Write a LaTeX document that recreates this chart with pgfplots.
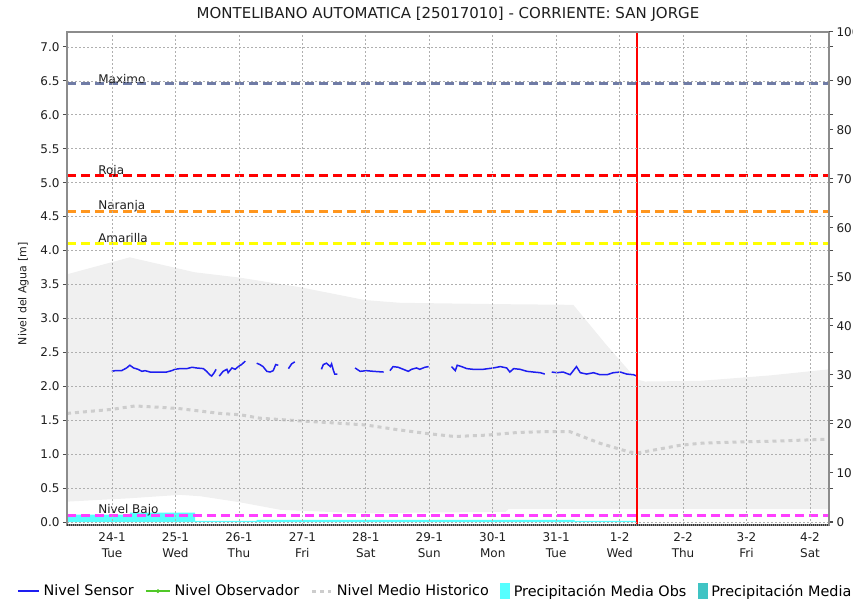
\documentclass[border=0pt]{standalone}
\usepackage{fontspec}
\setmainfont{DejaVu Sans}
\usepackage{pgfplots}
\pgfplotsset{compat=1.18}
\definecolor{maxc}{RGB}{112,124,166}
\definecolor{rojac}{RGB}{255,0,0}
\definecolor{naranjac}{RGB}{255,150,30}
\definecolor{amac}{RGB}{255,255,0}
\definecolor{bajoc}{RGB}{255,64,255}
\definecolor{bandc}{RGB}{240,240,240}
\definecolor{sensorc}{RGB}{30,30,240}
\definecolor{obsc}{RGB}{80,200,40}
\definecolor{medioc}{RGB}{205,205,205}
\definecolor{cyanc}{RGB}{85,255,255}
\definecolor{tealc}{RGB}{64,196,196}
\definecolor{axc}{RGB}{140,140,140}
\definecolor{gridc}{RGB}{175,175,175}
\definecolor{txtc}{RGB}{30,30,30}
\pgfplotsset{
  leg sensor/.style={legend image code/.code={\draw[draw=sensorc, line width=1.5bp] (0bp,0bp) -- (21bp,0bp);}},
  leg obs/.style={legend image code/.code={\draw[color=obsc, draw=obsc, line width=1.4bp] (0bp,0bp) -- (24bp,0bp); \fill[color=obsc] (12bp,0bp) circle (1.8bp);}},
  leg medio/.style={legend image code/.code={\draw[draw=medioc, line width=3bp, dash pattern=on 4bp off 4bp] (0bp,0bp) -- (19bp,0bp);}},
  leg cyan/.style={legend image code/.code={\fill[color=cyanc] (0bp,-7bp) rectangle (9bp,8bp);}},
  leg teal/.style={legend image code/.code={\fill[color=tealc] (0bp,-7bp) rectangle (9bp,8bp);}},
}
\begin{document}
\begin{tikzpicture}
\path[use as bounding box] (0,0) rectangle (853bp,603bp);
\begin{axis}[
  at={(67bp,78bp)}, anchor=south west,
  scale only axis, width=762bp, height=493bp,
  xmin=-0.71, xmax=11.30, ymin=-0.044, ymax=7.22,
  unbounded coords=jump,
  axis on top,
  xtick={0,1,2,3,4,5,6,7,8,9,10,11},
  xticklabels={{24-1\\Tue},{25-1\\Wed},{26-1\\Thu},{27-1\\Fri},{28-1\\Sat},{29-1\\Sun},{30-1\\Mon},{31-1\\Tue},{1-2\\Wed},{2-2\\Thu},{3-2\\Fri},{4-2\\Sat}},
  xticklabel style={align=center, font=\fontsize{12bp}{16bp}\selectfont, text=txtc},
  ytick={0,0.5,1,1.5,2,2.5,3,3.5,4,4.5,5,5.5,6,6.5,7},
  yticklabel style={font=\fontsize{12bp}{14bp}\selectfont, text=txtc, /pgf/number format/.cd, fixed, fixed zerofill, precision=1, assume math mode=true},
  xtick style={draw=none},
  ytick style={color=black!70, line width=1bp},
  tick align=outside, major tick length=4bp,
  grid=major,
  grid style={gridc, line width=0.7bp, dash pattern=on 2bp off 2bp},
  axis line style={axc, line width=1.5bp},
  title={MONTELIBANO AUTOMATICA [25017010] - CORRIENTE: SAN JORGE},
  title style={font=\fontsize{15bp}{18bp}\selectfont, anchor=base, yshift=8bp, text=txtc},
  ylabel={Nivel del Agua [m]},
  ylabel style={font=\fontsize{11bp}{13bp}\selectfont, at={(ticklabel cs:0.469,5bp)}, text=txtc},
  legend columns=5,
  legend cell align=left,
  legend style={at={(0.483,-0.134)}, anchor=center, draw=none, fill=none,
    font=\fontsize{14.4bp}{17bp}\selectfont,
    /tikz/every even column/.append style={column sep=10bp},
    /tikz/every odd column/.append style={column sep=2.5bp},
    nodes={inner sep=1.5bp}},
  after end axis/.code={\draw[black!80, line width=1.5bp, dash pattern=on 1bp off 1bp] (rel axis cs:0,0) -- (rel axis cs:1,0);},
]
% historical band
\addplot[fill=bandc, draw=none, forget plot] coordinates {
(-0.71,3.65)(0.28,3.90)(1.3,3.68)(2.02,3.60)(2.96,3.46)(3.99,3.27)(4.54,3.23)(6.12,3.21)(7.27,3.20)(7.80,2.60)(8.27,2.10)(8.4,2.07)(9.27,2.08)(10.37,2.16)(11.30,2.25)
(11.30,0.19)(6.25,0.19)(6.2,0.15)(3.89,0.13)(2.65,0.18)(2.02,0.29)(1.39,0.38)(1.07,0.40)(0.28,0.35)(-0.71,0.30)} -- cycle;
% precipitation
\addplot[fill=cyanc, draw=none, forget plot] coordinates {
(-0.71,0)(-0.71,0.11)(0.28,0.11)(0.28,0.14)(1.31,0.14)(1.31,0.015)(2.28,0.015)(2.28,0.03)(7.29,0.03)(7.29,0.015)(8.28,0.015)(8.28,0)} -- cycle;
% medio historico
\addplot[medioc, line width=3bp, dash pattern=on 4bp off 4bp, forget plot] coordinates {
(-0.71,1.60)(0,1.66)(0.36,1.71)(0.76,1.69)(1.07,1.67)(1.7,1.60)(2.02,1.58)(2.33,1.53)(2.96,1.49)(3.5,1.46)(4.0,1.43)(4.5,1.36)(5.0,1.30)(5.4,1.26)(5.9,1.28)(6.4,1.32)(6.75,1.33)(7.22,1.33)(7.69,1.16)(8.16,1.03)(8.3,1.02)(8.95,1.13)(9.27,1.16)(9.9,1.18)(10.37,1.19)(11.3,1.22)};
% thresholds
\addplot[maxc, line width=2.8bp, dash pattern=on 9bp off 5bp, forget plot] coordinates {(-0.71,6.46)(11.30,6.46)};
\addplot[rojac, line width=2.8bp, dash pattern=on 9bp off 5bp, forget plot] coordinates {(-0.71,5.10)(11.30,5.10)};
\addplot[naranjac, line width=2.8bp, dash pattern=on 9bp off 5bp, forget plot] coordinates {(-0.71,4.58)(11.30,4.58)};
\addplot[amac, line width=2.8bp, dash pattern=on 9bp off 5bp, forget plot] coordinates {(-0.71,4.10)(11.30,4.10)};
\addplot[bajoc, line width=2.8bp, dash pattern=on 9bp off 5bp, forget plot] coordinates {(-0.71,0.10)(11.30,0.10)};
% sensor
\addplot[sensorc, line width=1.5bp, forget plot] coordinates {
(-0.005,2.22)(0.05,2.23)(0.15,2.23)(0.23,2.27)(0.28,2.31)(0.34,2.27)(0.41,2.25)(0.47,2.22)(0.52,2.23)(0.60,2.21)(0.86,2.21)(0.94,2.23)(0.99,2.25)(1.07,2.26)(1.18,2.26)(1.26,2.28)(1.33,2.27)(1.44,2.26)(1.49,2.22)(1.54,2.17)(1.57,2.15)(1.61,2.20)(1.64,2.25)
(1.665,nan)
(1.69,2.15)(1.75,2.22)(1.81,2.25)(1.83,2.20)(1.89,2.27)(1.94,2.25)(1.99,2.29)(2.04,2.32)(2.10,2.37)
(2.2,nan)
(2.28,2.34)(2.33,2.32)(2.38,2.29)(2.44,2.22)(2.49,2.21)(2.54,2.23)(2.58,2.32)(2.62,2.31)
(2.7,nan)
(2.78,2.26)(2.83,2.33)(2.88,2.36)
(3.1,nan)
(3.30,2.25)(3.33,2.32)(3.38,2.34)(3.44,2.29)(3.46,2.33)(3.49,2.23)(3.51,2.18)(3.55,2.18)
(3.7,nan)
(3.83,2.27)(3.91,2.22)(4.01,2.23)(4.12,2.22)(4.28,2.21)
(4.33,nan)
(4.38,2.23)(4.43,2.29)(4.51,2.28)(4.59,2.25)(4.67,2.22)(4.72,2.25)(4.80,2.27)(4.85,2.25)(4.93,2.28)(4.99,2.29)
(5.2,nan)
(5.35,2.29)(5.41,2.23)(5.44,2.31)(5.51,2.29)(5.59,2.26)(5.69,2.25)(5.85,2.25)(6.01,2.27)(6.12,2.29)(6.22,2.27)(6.27,2.21)(6.33,2.26)(6.43,2.25)(6.54,2.22)(6.64,2.21)(6.75,2.20)(6.82,2.18)
(6.87,nan)
(6.93,2.21)(7.01,2.20)(7.11,2.21)(7.22,2.17)(7.32,2.29)(7.38,2.20)(7.48,2.18)(7.59,2.20)(7.69,2.17)(7.80,2.17)(7.90,2.20)(8.01,2.21)(8.11,2.18)(8.22,2.17)(8.27,2.15)};
% now line
\addplot[color=red, draw=red, solid, line width=2bp, forget plot] coordinates {(8.28,-0.044)(8.28,7.22)};
% labels
\node[anchor=base west, font=\fontsize{12bp}{14bp}\selectfont, text=txtc, inner sep=0pt] at (axis cs:-0.22,6.46) {Maximo};
\node[anchor=base west, font=\fontsize{12bp}{14bp}\selectfont, text=txtc, inner sep=0pt] at (axis cs:-0.22,5.12) {Roja};
\node[anchor=base west, font=\fontsize{12bp}{14bp}\selectfont, text=txtc, inner sep=0pt] at (axis cs:-0.22,4.60) {Naranja};
\node[anchor=base west, font=\fontsize{12bp}{14bp}\selectfont, text=txtc, inner sep=0pt] at (axis cs:-0.22,4.12) {Amarilla};
\node[anchor=base west, font=\fontsize{12bp}{14bp}\selectfont, text=txtc, inner sep=0pt] at (axis cs:-0.22,0.12) {Nivel Bajo};
% legend
\addlegendimage{leg sensor}
\addlegendentry{Nivel Sensor}
\addlegendimage{leg obs}
\addlegendentry{Nivel Observador}
\addlegendimage{leg medio}
\addlegendentry{Nivel Medio Historico}
\addlegendimage{leg cyan}
\addlegendentry{Precipitación Media Obs}
\addlegendimage{leg teal}
\addlegendentry{Precipitación Media}
\end{axis}
\begin{axis}[
  at={(67bp,78bp)}, anchor=south west,
  scale only axis, width=762bp, height=493bp,
  xmin=0, xmax=1, ymin=-0.65, ymax=100,
  axis x line=none, axis y line*=right,
  ytick={0,10,20,30,40,50,60,70,80,90,100},
  yticklabel style={font=\fontsize{12bp}{14bp}\selectfont, text=txtc, /pgf/number format/assume math mode=true},
  ytick style={color=black!70, line width=1bp},
  tick align=outside, major tick length=4bp,
  axis line style={axc, line width=1.5bp},
]
\addplot[draw=none, mark=none] coordinates {(0.5,50)};
\end{axis}
\end{tikzpicture}
\end{document}
